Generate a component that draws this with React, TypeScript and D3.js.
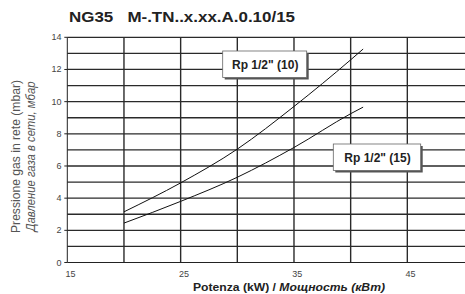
import React, { useEffect, useRef } from 'react'
import * as d3 from 'd3'

// kW -> mbar
const power10 = [20, 25, 30, 35, 40, 41.1]
const press10 = [3.15, 4.95, 7.05, 9.7, 12.6, 13.27]
const power15 = [20, 25, 30, 35, 40, 41.1]
const press15 = [2.45, 3.8, 5.3, 7.15, 9.25, 9.66]
const xTicks = [15, 25, 35, 45]
const yTicks = [0, 2, 4, 6, 8, 10, 12, 14]

export default function App() {
    const ref = useRef<SVGSVGElement | null>(null)
    const width = 465
    const height = 294
    const font = '"Liberation Sans", Arial, sans-serif'
    const narrow = '"Liberation Sans Narrow", "Arial Narrow", "Liberation Sans", sans-serif'

    function draw() {
        var svg = d3.select(ref.current)
        svg.selectAll('*').remove()

        var x = d3.scaleLinear().domain([15, 50]).range([67.3, 464])
        var y = d3.scaleLinear().domain([0, 14]).range([262.5, 37.3])

        svg.append('rect').attr('width', width).attr('height', height).attr('fill', '#fff')

        var grid = svg.append('g')
        grid.selectAll('line.h')
            .data(d3.range(1, 15))
            .enter().append('line')
            .attr('x1', x(15)).attr('x2', 465)
            .attr('y1', (d: any) => y(d)).attr('y2', (d: any) => y(d))
            .attr('stroke', '#2a2a2a').attr('stroke-width', 1.3)
        grid.selectAll('line.v')
            .data(d3.range(20, 50, 5))
            .enter().append('line')
            .attr('x1', (d: any) => x(d)).attr('x2', (d: any) => x(d))
            .attr('y1', y(0)).attr('y2', y(14))
            .attr('stroke', '#2a2a2a').attr('stroke-width', 1.4)

        // axes
        svg.append('line').attr('x1', x(15)).attr('x2', x(15)).attr('y1', y(0)).attr('y2', y(14))
            .attr('stroke', '#222').attr('stroke-width', 1)
        svg.append('line').attr('x1', x(15)).attr('x2', 465).attr('y1', y(0)).attr('y2', y(0))
            .attr('stroke', '#222').attr('stroke-width', 1)
        svg.selectAll('line.yt').data(yTicks).enter().append('line')
            .attr('x1', x(15) - 3).attr('x2', x(15))
            .attr('y1', (d: any) => y(d)).attr('y2', (d: any) => y(d))
            .attr('stroke', '#222').attr('stroke-width', 1)

        svg.selectAll('text.yl').data(yTicks).enter().append('text')
            .attr('x', 61.5).attr('y', (d: any) => y(d) + 3)
            .attr('text-anchor', 'end')
            .style('font', '9px ' + font)
            .attr('fill', '#444')
            .text((d: any) => d)
        svg.selectAll('text.xl').data(xTicks).enter().append('text')
            .attr('x', (d: any) => x(d) + 3.3).attr('y', 276.5)
            .attr('text-anchor', 'middle')
            .style('font', '9px ' + font)
            .attr('fill', '#444')
            .text((d: any) => d)

        // curves
        var line = d3.line<any>().x((d: any) => x(d[0])).y((d: any) => y(d[1])).curve(d3.curveMonotoneX)
        svg.append('path').datum(d3.zip(power10, press10))
            .attr('d', line).attr('fill', 'none').attr('stroke', '#111').attr('stroke-width', 1)
        svg.append('path').datum(d3.zip(power15, press15))
            .attr('d', line).attr('fill', 'none').attr('stroke', '#111').attr('stroke-width', 1)

        // labels
        var boxes = [
            { t: 'Rp 1/2" (10)', x: 222.7, y: 51, w: 84, h: 26.5 },
            { t: 'Rp 1/2" (15)', x: 333.3, y: 144, w: 87.4, h: 26.5 },
        ]
        boxes.forEach(function (b) {
            svg.append('rect').attr('x', b.x + 2).attr('y', b.y + 2).attr('width', b.w).attr('height', b.h)
                .attr('fill', '#555')
            svg.append('rect').attr('x', b.x).attr('y', b.y).attr('width', b.w).attr('height', b.h)
                .attr('fill', '#fff').attr('stroke', '#666').attr('stroke-width', 0.8)
            svg.append('text').attr('x', b.x + b.w / 2 + 0.5).attr('y', b.y + b.h / 2 + 4.5)
                .attr('text-anchor', 'middle')
                .style('font', 'bold 12px ' + font)
                .attr('fill', '#222')
                .text(b.t)
        })

        // titles
        svg.append('text').attr('x', 69).attr('y', 22.3)
            .style('font', 'bold 15px ' + font)
            .attr('fill', '#222')
            .attr('xml:space', 'preserve')
            .attr('textLength', 226).attr('lengthAdjust', 'spacingAndGlyphs')
            .text('NG35   M-.TN..x.xx.A.0.10/15')

        var xt = svg.append('text').attr('x', 193).attr('y', 290.5)
            .style('font', 'bold 10px ' + font)
            .attr('fill', '#222')
            .attr('textLength', 192).attr('lengthAdjust', 'spacingAndGlyphs')
        xt.append('tspan').text('Potenza (kW) / ')
        xt.append('tspan').style('font-style', 'italic').text('Мощность (кВт)')

        var yt = svg.append('g').attr('transform', 'translate(0,156.5) rotate(-90)')
        yt.append('text').attr('x', 0).attr('y', 19.5).attr('text-anchor', 'middle')
            .style('font', '12.5px ' + narrow)
            .attr('fill', '#555')
            .attr('textLength', 153).attr('lengthAdjust', 'spacingAndGlyphs')
            .text('Pressione gas in rete (mbar)')
        yt.append('text').attr('x', 0).attr('y', 35).attr('text-anchor', 'middle')
            .style('font', 'italic 12.5px ' + narrow)
            .attr('fill', '#555')
            .attr('textLength', 150).attr('lengthAdjust', 'spacingAndGlyphs')
            .text('Давление газа в сети, мбар')
    }

    useEffect(() => {
        draw()
    }, [])

    return (
        <div style={{ position: 'absolute', left: 0, top: 0 }}>
            <svg ref={ref} width={width} height={height} style={{ display: 'block' }} />
        </div>
    )
}
